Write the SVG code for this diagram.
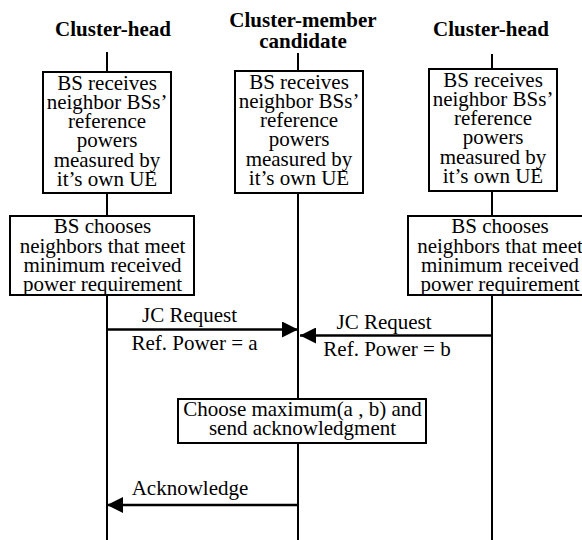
<svg xmlns="http://www.w3.org/2000/svg" width="582" height="540" viewBox="0 0 582 540" font-family="'Liberation Serif', 'DejaVu Serif', serif">
<style>
.bg{fill:#fff}
.box{fill:#fff;stroke:#000;stroke-width:2}
.life{stroke:#000;stroke-width:2;fill:none}
.msg{stroke:#000;stroke-width:2.5;fill:none;marker-end:url(#ah)}
text{font-family:'Liberation Serif','DejaVu Serif',serif;font-size:21px;fill:#000}
.hd{font-weight:bold;text-anchor:middle}
.c{text-anchor:middle}
</style>
<defs>
<marker id="ah" markerUnits="userSpaceOnUse" markerWidth="17" markerHeight="16" refX="16" refY="8" orient="auto">
<path d="M0,0 L16,8 L0,16 z" fill="#000"/>
</marker>
</defs>
<rect class="bg" width="582" height="540"/>
<g id="lifelines">
<line class="life" x1="107" y1="52" x2="107" y2="540"/>
<line class="life" x1="298" y1="53" x2="298" y2="540"/>
<line class="life" x1="492" y1="54" x2="492" y2="540"/>
</g>
<g id="headers">
<text class="hd" x="113" y="36">Cluster-head</text>
<text class="hd" x="303" y="27">Cluster-member</text>
<text class="hd" x="303" y="48">candidate</text>
<text class="hd" x="491" y="36">Cluster-head</text>
</g>
<g id="recv-left">
<rect class="box" x="43" y="72" width="128" height="121"/>
<text class="c" x="107" y="89.5">BS receives</text>
<text class="c" x="107" y="108.8">neighbor BSs’</text>
<text class="c" x="107" y="128.1">reference</text>
<text class="c" x="107" y="147.4">powers</text>
<text class="c" x="107" y="166.7">measured by</text>
<text class="c" x="107" y="186">it’s own UE</text>
</g>
<g id="recv-mid">
<rect class="box" x="235" y="71" width="128" height="122"/>
<text class="c" x="299" y="88.5">BS receives</text>
<text class="c" x="299" y="107.8">neighbor BSs’</text>
<text class="c" x="299" y="127.1">reference</text>
<text class="c" x="299" y="146.4">powers</text>
<text class="c" x="299" y="165.7">measured by</text>
<text class="c" x="299" y="185">it’s own UE</text>
</g>
<g id="recv-right">
<rect class="box" x="429" y="69" width="128" height="122"/>
<text class="c" x="493" y="86.5">BS receives</text>
<text class="c" x="493" y="105.8">neighbor BSs’</text>
<text class="c" x="493" y="125.1">reference</text>
<text class="c" x="493" y="144.4">powers</text>
<text class="c" x="493" y="163.7">measured by</text>
<text class="c" x="493" y="183">it’s own UE</text>
</g>
<g id="choose-left">
<rect class="box" x="10" y="216" width="184" height="79"/>
<text class="c" x="102.5" y="233">BS chooses</text>
<text class="c" x="102.5" y="252.5">neighbors that meet</text>
<text class="c" x="102.5" y="272">minimum received</text>
<text class="c" x="102.5" y="291">power requirement</text>
</g>
<g id="choose-right">
<rect class="box" x="408" y="216" width="184" height="79"/>
<text class="c" x="500" y="233">BS chooses</text>
<text class="c" x="500" y="252.5">neighbors that meet</text>
<text class="c" x="500" y="272">minimum received</text>
<text class="c" x="500" y="291">power requirement</text>
</g>
<g id="choose-max">
<rect class="box" x="178" y="399" width="248" height="44"/>
<text class="c" x="302.5" y="415.5">Choose maximum(a , b) and</text>
<text class="c" x="302.5" y="435">send acknowledgment</text>
</g>
<g id="connectors">
<line class="msg" x1="107" y1="329.5" x2="298" y2="329.5"/>
<line class="msg" x1="492" y1="335.5" x2="300" y2="335.5"/>
<line class="msg" x1="298" y1="505" x2="107" y2="505"/>
</g>
<g id="labels">
<text class="c" x="189.5" y="321.5">JC Request</text>
<text class="c" x="194.5" y="350">Ref. Power = a</text>
<text class="c" x="384" y="329">JC Request</text>
<text class="c" x="387" y="356">Ref. Power = b</text>
<text class="c" x="190" y="495">Acknowledge</text>
</g>
</svg>
